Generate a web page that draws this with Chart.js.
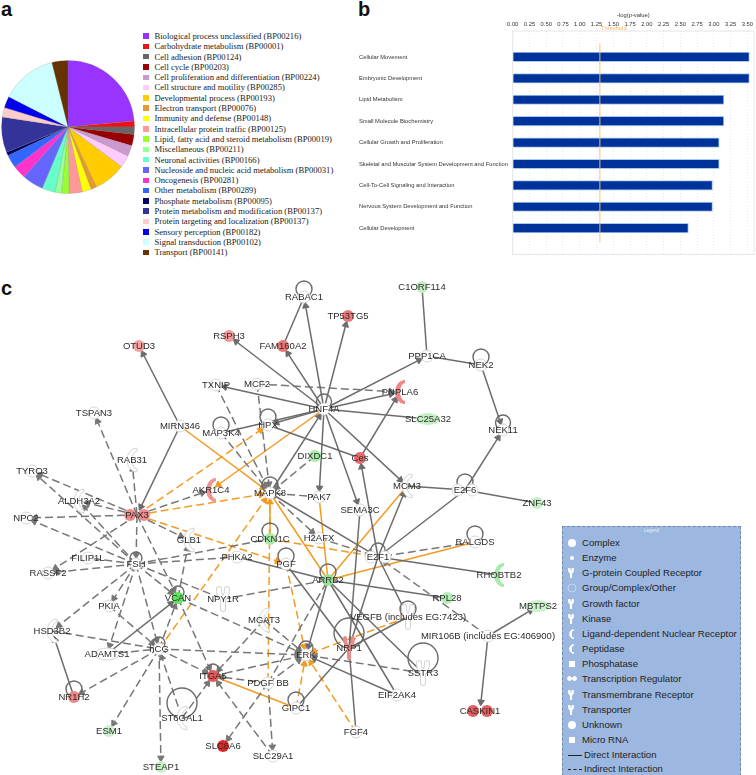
<!DOCTYPE html>
<html>
<head>
<meta charset="utf-8">
<script src="https://cdn.jsdelivr.net/npm/chart.js@4.4.0/dist/chart.umd.min.js"></script>
<style>
html, body { margin: 0; padding: 0; background: #fff; }
body { position: relative; width: 756px; height: 775px; overflow: hidden; font-family: "Liberation Sans", Arial, sans-serif; filter: blur(0.4px); }
canvas { position: absolute; display: block; }
.letter { position: absolute; font-weight: bold; font-size: 20px; line-height: 20px; color: #111; }
#pieLegend { position: absolute; left: 143px; top: 31px; font-family: "Liberation Serif", serif; font-size: 8.6px; color: #1a1a1a; }
#pieLegend div { position: relative; height: 10.3px; line-height: 10.3px; padding-left: 11.5px; white-space: nowrap; }
#pieLegend i { position: absolute; left: 0; top: 2.4px; width: 5.5px; height: 5.5px; }
#panel { position: absolute; left: 562px; top: 526px; width: 179px; height: 260px; background: #9db8e0; border: 1px dashed #6f86ad; box-sizing: border-box; font-size: 9.6px; color: #222; }
#panel .row { position: absolute; left: 19px; white-space: nowrap; line-height: 12px; }
#panel canvas { left: 3px; }
#panel .title { position: absolute; left: 0; right: 0; top: 1px; text-align: center; font-size: 4.5px; color: #e8eef8; }
#panel .sample { position: absolute; left: 5px; width: 14px; height: 0; }
</style>
</head>
<body>
<div class="letter" style="left:1px;top:-1px">a</div>
<div class="letter" style="left:358px;top:-1px">b</div>
<div class="letter" style="left:1px;top:278px">c</div>

<canvas id="pie" width="136" height="136" style="left:0;top:59px"></canvas>
<div id="pieLegend"></div>
<canvas id="bars" width="406" height="258" style="left:350px;top:0"></canvas>
<canvas id="net" width="562" height="505" style="left:0;top:270px"></canvas>
<div id="panel"><div class="title">Legend</div></div>

<script>
// panel a
const pieLabels = [
    'Biological process unclassified (BP00216)', 'Carbohydrate metabolism (BP00001)', 'Cell adhesion (BP00124)',
    'Cell cycle (BP00203)', 'Cell proliferation and differentiation (BP00224)', 'Cell structure and motility (BP00285)',
    'Developmental process (BP00193)', 'Electron transport (BP00076)', 'Immunity and defense (BP00148)',
    'Intracellular protein traffic (BP00125)', 'Lipid, fatty acid and steroid metabolism (BP00019)', 'Miscellaneous (BP00211)',
    'Neuronal activities (BP00166)', 'Nucleoside and nucleic acid metabolism (BP00031)', 'Oncogenesis (BP00281)',
    'Other metabolism (BP00289)', 'Phosphate metabolism (BP00095)', 'Protein metabolism and modification (BP00137)',
    'Protein targeting and localization (BP00137)', 'Sensory perception (BP00182)', 'Signal transduction (BP00102)',
    'Transport (BP00141)'
];
const pieValues = [23.6, 1.4, 1.8, 2.8, 2.6, 3.0, 7.8, 1.4, 2.2, 3.2, 1.8, 1.6, 3.2, 5.2, 3.2, 3.2, 0.9, 8.6, 2.3, 2.8, 13.6, 3.9];
const pieColors = ['#9933ff', '#ee1111', '#666666', '#990000', '#cc99cc', '#ffccff', '#ffcc00', '#e69933', '#ffff00', '#ff9999',
    '#99ff33', '#99ff99', '#66ffcc', '#6666ff', '#ff33cc', '#3366ff', '#000066', '#333399', '#ffcccc', '#0000ee', '#ccffff', '#663300'];

// panel b
const barCategories = ['Cellular Movement', 'Embryonic Development', 'Lipid Metabolism', 'Small Molecule Biochemistry',
    'Cellular Growth and Proliferation', 'Skeletal and Muscular System Development and Function',
    'Cell-To-Cell Signaling and Interaction', 'Nervous System Development and Function', 'Cellular Development'];
const barValues = [3.53, 3.53, 3.15, 3.15, 3.08, 3.08, 2.98, 2.98, 2.62];
const thresholdValue = 1.3;

// panel c: node positions in the coordinates of the figure
const nodeNames = ['OTUD3', 'RSPH3', 'TXNIP', 'MCF2', 'TSPAN3', 'MIRN346', 'MAP3K4', 'HPX', 'RAB31', 'TYRO3', 'AKR1C4', 'ALDH3A2', 'NPC2', 'PAX3', 'MAPK8',
    'RABAC1', 'TP53TG5', 'FAM160A2', 'C1ORF114', 'PPP1CA', 'NEK2', 'PNPLA6', 'HNF4A', 'SLC25A32', 'NEK11', 'DIXDC1', 'Ces', 'MCM3', 'E2F6', 'ZNF43', 'PAK7', 'SEMA3C',
    'GLB1', 'CDKN1C', 'FILIP1L', 'FSH', 'PHKA2', 'RASSF2', 'VCAN', 'NPY1R', 'PKIA', 'HSD3B2', 'MGAT3', 'hCG', 'ADAMTS1', 'ITGA5', 'PDGF BB', 'NR1H2', 'ST6GAL1', 'ESM1', 'SLC6A6', 'SLC29A1', 'STEAP1',
    'H2AFX', 'E2F1', 'RALGDS', 'PGF', 'ARRB2', 'RHOBTB2', 'RPL28', 'MBTPS2', 'VEGFB (includes EG:7423)', 'MIR106B (includes EG:406900)', 'NRP1', 'ERK', 'SSTR3', 'EIF2AK4', 'GIPC1', 'FGF4', 'CASKIN1'];
const nodeX = [139, 229, 216, 257, 94, 180, 221, 268, 132, 32, 211, 79, 26, 137, 270,
    304, 348, 283, 422, 427, 481, 400, 324, 428, 503, 315, 360, 407, 465, 537, 319, 360,
    189, 270, 88, 136, 237, 48, 178, 223, 109, 52, 264, 159, 107, 213, 268, 74, 182, 109, 223, 273, 161,
    319, 378, 475, 286, 328, 499, 447, 538, 408, 488, 349, 306, 423, 397, 296, 356, 480];
const nodeY = [346, 336, 385, 384, 413, 426, 433, 425, 460, 471, 490, 501, 518, 515, 493,
    297, 316, 346, 287, 356, 365, 392, 409, 419, 430, 456, 458, 486, 490, 503, 497, 510,
    540, 539, 558, 564, 557, 573, 598, 599, 606, 631, 620, 649, 654, 676, 683, 697, 718, 731, 746, 756, 767,
    538, 557, 542, 564, 580, 575, 598, 606, 617, 636, 648, 655, 673, 695, 708, 732, 711];
const redNodes = { OTUD3: '#f4a3a3', RSPH3: '#f19a9a', PAX3: '#ee8a8a', AKR1C4: '#f09595', 'FAM160A2': '#e97676', TP53TG5: '#ea7a7a', PNPLA6: '#ef8585', Ces: '#e26a6a',
    ITGA5: '#e85a5a', NR1H2: '#f08686', SLC6A6: '#e02525', NRP1: '#ef8a8a', CASKIN1: '#e06060' };
const greenNodes = { C1ORF114: '#c4f0c4', SLC25A32: '#c4f0c4', DIXDC1: '#a8eaa8', ZNF43: '#c4f0c4', CDKN1C: '#a8eaa8', VCAN: '#5fe35f', ESM1: '#ccf2cc', STEAP1: '#ccf2cc',
    ARRB2: '#98e398', RHOBTB2: '#a8eaa8', RPL28: '#b4eeb4', MBTPS2: '#ccf2cc' };
const crescentNodes = ['PNPLA6', 'AKR1C4', 'RHOBTB2', 'RAB31', 'ALDH3A2', 'GLB1', 'MCM3', 'HSD3B2', 'MGAT3', 'ST6GAL1'];
const forkNodes = ['NRP1', 'NPY1R', 'SSTR3', 'VEGFB (includes EG:7423)'];
const twinNodes = ['PAX3', 'CASKIN1', 'E2F6', 'E2F1'];
const ovalNodes = ['MBTPS2', 'SLC25A32', 'ADAMTS1'];
const loopNodes = ['MAP3K4', 'HPX', 'MAPK8', 'RABAC1', 'HNF4A', 'NEK2', 'NEK11', 'E2F6', 'E2F1', 'RALGDS', 'PGF', 'ARRB2', 'VEGFB (includes EG:7423)', 'NRP1', 'SSTR3', 'ERK', 'GIPC1', 'CDKN1C', 'FSH', 'NR1H2', 'hCG', 'ST6GAL1', 'VCAN', 'ITGA5'];
const loopRadius = [8, 8, 8, 8, 7.5, 8, 7.5, 8, 7, 8, 8, 8, 8, 15, 15, 7, 8, 8, 6, 8, 6, 15, 6, 6];

// "A>B" has an arrow head at B, "A-B" has none
const graySolid = ['FAM160A2-RABAC1', 'HNF4A>RABAC1', 'HNF4A>TP53TG5', 'HNF4A>FAM160A2', 'HNF4A>RSPH3', 'HNF4A>TXNIP', 'HNF4A>PPP1CA', 'HNF4A>PNPLA6', 'HNF4A>HPX', 'HNF4A>PAK7', 'HNF4A>SEMA3C', 'HNF4A>MCM3',
    'SLC25A32-HNF4A', 'MAPK8>HNF4A', 'MAP3K4-HNF4A', 'HPX-Ces', 'Ces>PNPLA6', 'C1ORF114-PPP1CA', 'PPP1CA-NEK2', 'NEK2>NEK11', 'E2F6>NEK11', 'MCM3-E2F6', 'E2F6-ZNF43', 'E2F6-E2F1', 'E2F1>MCM3', 'E2F1>Ces',
    'MIRN346>OTUD3', 'MIRN346>PAX3', 'SEMA3C-NRP1', 'PGF-NRP1', 'ARRB2-EIF2AK4', 'ARRB2-SSTR3', 'ARRB2-RPL28', 'ARRB2>ERK', 'E2F1-RHOBTB2', 'E2F1>VEGFB (includes EG:7423)', 'E2F1>NRP1', 'NRP1-VEGFB (includes EG:7423)',
    'GIPC1-NRP1', 'EIF2AK4>ERK', 'FGF4-NRP1', 'MAPK8>E2F1', 'PHKA2-ARRB2', 'MIR106B (includes EG:406900)>CASKIN1', 'MIR106B (includes EG:406900)>MBTPS2', 'NR1H2>HSD3B2', 'ADAMTS1>VCAN'];
const grayDashed = ['PAX3>TSPAN3', 'PAX3>RAB31', 'PAX3>TYRO3', 'PAX3>ALDH3A2', 'PAX3>NPC2', 'PAX3>RASSF2', 'PAX3>FSH', 'PAX3>GLB1', 'PAX3>VCAN', 'PAX3>AKR1C4',
    'FSH>TYRO3', 'FSH>NPC2', 'FSH>ALDH3A2', 'FSH-FILIP1L', 'FSH>RASSF2', 'FSH-PHKA2', 'FSH-CDKN1C', 'FSH>PKIA', 'FSH>ADAMTS1', 'FSH>HSD3B2', 'FSH>hCG', 'FSH>VCAN', 'FSH-NPY1R',
    'VCAN>GLB1', 'hCG>VCAN', 'VCAN>ITGA5', 'VCAN>ERK', 'PKIA>hCG', 'HSD3B2-hCG', 'ADAMTS1-hCG', 'hCG>NR1H2', 'hCG>ESM1', 'hCG>STEAP1', 'ST6GAL1>hCG', 'ST6GAL1>ITGA5', 'hCG>ITGA5', 'hCG>ERK',
    'PDGF BB>ITGA5', 'PDGF BB>SLC6A6', 'PDGF BB>SLC29A1', 'SLC29A1>ITGA5', 'MGAT3>ITGA5', 'MGAT3>ERK', 'ITGA5-ERK', 'NPY1R-ARRB2', 'PDGF BB>ERK', 'PDGF BB-ARRB2', 'SSTR3>ERK',
    'TXNIP>MAPK8', 'MCF2>MAPK8', 'MAP3K4>MAPK8', 'DIXDC1>MAPK8', 'PAK7-MAPK8', 'MCF2>PNPLA6', 'MAPK8>H2AFX', 'H2AFX>E2F1', 'RALGDS>E2F1', 'MIR106B (includes EG:406900)>E2F1'];
const orangeSolid = ['MIRN346>MAPK8', 'HNF4A>AKR1C4', 'ARRB2-MCM3', 'ARRB2-RALGDS', 'ARRB2-MAPK8', 'PAK7-ARRB2', 'ITGA5-GIPC1', 'CDKN1C>MAPK8'];
const orangeDashed = ['PAX3>HPX', 'PAX3>MAPK8', 'PAX3>PGF', 'hCG>MAPK8', 'CDKN1C>E2F1', 'PGF>ERK', 'VEGFB (includes EG:7423)>ERK', 'FGF4>ERK', 'GIPC1>ERK', 'MAPK8-PDGF BB'];

const legendNames = ['Complex', 'Enzyme', 'G-protein Coupled Receptor', 'Group/Complex/Other', 'Growth factor', 'Kinase', 'Ligand-dependent Nuclear Receptor',
    'Peptidase', 'Phosphatase', 'Transcription Regulator', 'Transmembrane Receptor', 'Transporter', 'Unknown', 'Micro RNA'];
const legendShapes = ['dot', 'small', 'fork', 'ring', 'fork', 'fork', 'cres', 'cres', 'box', 'twin', 'fork', 'fork', 'dot', 'box'];

// little node glyphs, used as point styles
function makeCanvas(w, h) {
    const c = document.createElement('canvas');
    c.width = w;
    c.height = h;
    return c;
}

function crescent(fill, edge) {
    const c = makeCanvas(12, 26);
    const g = c.getContext('2d');
    g.beginPath();
    g.ellipse(11, 13, 10, 12, 0, Math.PI * 1.5, Math.PI * 0.5, true);
    g.ellipse(11, 13, 5, 9, 0, Math.PI * 0.5, Math.PI * 1.5, false);
    g.closePath();
    g.fillStyle = fill;
    g.fill();
    g.strokeStyle = edge;
    g.stroke();
    return c;
}

function fork(fill, edge) {
    const c = makeCanvas(14, 26);
    const g = c.getContext('2d');
    g.lineCap = 'round';
    const path = () => {
        g.beginPath();
        g.moveTo(3, 3);
        g.quadraticCurveTo(3, 11, 7, 12);
        g.quadraticCurveTo(11, 11, 11, 3);
        g.moveTo(7, 12);
        g.lineTo(7, 23);
    };
    path();
    g.lineWidth = 6;
    g.strokeStyle = edge;
    g.stroke();
    path();
    g.lineWidth = 4;
    g.strokeStyle = fill;
    g.stroke();
    return c;
}

function twin(fill, edge) {
    const c = makeCanvas(28, 14);
    const g = c.getContext('2d');
    [7, 21].forEach(x => {
        g.beginPath();
        g.arc(x, 7, 6, 0, Math.PI * 2);
        g.fillStyle = fill;
        g.fill();
        g.strokeStyle = edge;
        g.stroke();
    });
    return c;
}

function oval(fill, edge) {
    const c = makeCanvas(26, 14);
    const g = c.getContext('2d');
    g.beginPath();
    g.ellipse(13, 7, 12, 6, 0, 0, Math.PI * 2);
    g.fillStyle = fill;
    g.fill();
    g.strokeStyle = edge;
    g.stroke();
    return c;
}

new Chart(document.getElementById('pie'), {
    type: 'pie',
    data: {
        labels: pieLabels,
        datasets: [{ data: pieValues, backgroundColor: pieColors, borderColor: 'rgba(120,120,120,0.45)', borderWidth: 0.5 }]
    },
    options: {
        responsive: false,
        animation: false,
        radius: 66.5,
        plugins: { legend: { display: false }, tooltip: { enabled: false } }
    }
});

const pieLegend = document.getElementById('pieLegend');
pieLabels.forEach((label, i) => {
    const row = document.createElement('div');
    row.textContent = label;
    const box = document.createElement('i');
    box.style.background = pieColors[i];
    row.appendChild(box);
    pieLegend.appendChild(row);
});

// outline of the plot and the threshold word
const plotFrame = {
    id: 'plotFrame',
    afterDatasetsDraw(chart) {
        const { ctx, chartArea: a, scales } = chart;
        ctx.save();
        ctx.strokeStyle = '#e2e6ec';
        ctx.strokeRect(a.left, a.top, a.width, a.height);
        ctx.fillStyle = '#f5b860';
        ctx.font = '5.8px "Liberation Sans"';
        ctx.textBaseline = 'middle';
        ctx.fillText('Threshold', scales.x.getPixelForValue(thresholdValue) + 1, a.top - 2.5);
        ctx.restore();
    }
};

new Chart(document.getElementById('bars'), {
    type: 'bar',
    data: {
        datasets: [
            {
                type: 'scatter',
                showLine: true,
                data: [{ x: thresholdValue, y: 0.37 }, { x: thresholdValue, y: 9.65 }],
                borderColor: 'rgba(250,190,110,0.5)',
                borderWidth: 0.8,
                pointRadius: 0
            },
            {
                data: barValues.map((v, i) => ({ x: v, y: i + 1 })),
                backgroundColor: '#003399',
                borderColor: '#a9c8f2',
                borderWidth: 1,
                barThickness: 9.5
            }
        ]
    },
    options: {
        indexAxis: 'y',
        responsive: false,
        animation: false,
        layout: { autoPadding: false, padding: { left: 9, bottom: 2.3, top: 0, right: 0 } },
        plugins: { legend: { display: false }, tooltip: { enabled: false } },
        scales: {
            x: {
                type: 'linear',
                position: 'top',
                min: 0,
                max: 3.6,
                title: { display: true, text: '-log(p-value)', color: '#333', font: { size: 5.8 }, padding: { top: 12, bottom: 0 } },
                afterFit: s => { s.height = 31; },
                grid: { color: '#e8e8e8', drawTicks: false },
                border: { dash: [1, 2], display: false },
                ticks: {
                    stepSize: 0.25,
                    includeBounds: false,
                    maxRotation: 0,
                    autoSkip: false,
                    padding: 3,
                    color: '#333',
                    font: { size: 5.8 },
                    callback: v => v.toFixed(2)
                }
            },
            y: {
                type: 'linear',
                reverse: true,
                min: 0.37,
                max: 9.65,
                afterFit: s => { s.width = 153.7; },
                grid: { display: false },
                border: { display: false },
                ticks: {
                    stepSize: 1,
                    includeBounds: false,
                    autoSkip: false,
                    crossAlign: 'far',
                    padding: 0,
                    color: '#333',
                    font: { size: 5.8 },
                    callback: v => barCategories[v - 1] || ''
                }
            }
        }
    },
    plugins: [plotFrame]
});

// network
function nodeAt(name) {
    const i = nodeNames.indexOf(name);
    return { x: nodeX[i], y: nodeY[i] };
}

function edgeDatasets(list, color, dash) {
    return list.map(edge => {
        const arrow = edge.includes('>');
        const [from, to] = edge.split(arrow ? '>' : /(?<=[A-Za-z0-9)])-(?=[A-Za-z0-9])/);
        const a = nodeAt(from);
        const b = nodeAt(to);
        const dx = b.x - a.x;
        const dy = b.y - a.y;
        const len = Math.hypot(dx, dy);
        const back = arrow ? 9 : 0;
        return {
            data: [a, { x: b.x - dx / len * back, y: b.y - dy / len * back }],
            showLine: true,
            borderColor: color,
            borderWidth: 1.5,
            borderDash: dash,
            pointRadius: [0, arrow ? 3.8 : 0],
            pointStyle: 'triangle',
            pointRotation: [0, Math.atan2(dx, -dy) * 180 / Math.PI],
            backgroundColor: color,
            pointBorderColor: color,
            pointBorderWidth: 1,
            clip: false
        };
    });
}

const nodeFill = name => redNodes[name] || greenNodes[name] || '#ffffff';
const nodeEdge = name => (redNodes[name] || greenNodes[name]) ? 'rgba(0,0,0,0)' : '#d4d4d4';

function nodeStyle(name) {
    if (crescentNodes.includes(name)) return crescent(nodeFill(name), nodeEdge(name));
    if (forkNodes.includes(name)) return fork(nodeFill(name), nodeEdge(name));
    if (twinNodes.includes(name)) return twin(nodeFill(name), nodeEdge(name));
    if (ovalNodes.includes(name)) return oval(nodeFill(name), nodeEdge(name));
    return 'circle';
}

const nodeLabels = {
    id: 'nodeLabels',
    afterDatasetsDraw(chart) {
        const { ctx, scales } = chart;
        ctx.save();
        ctx.font = '9.5px "Liberation Sans"';
        ctx.fillStyle = '#2b2b2b';
        ctx.textAlign = 'center';
        ctx.textBaseline = 'middle';
        nodeNames.forEach((name, i) => {
            ctx.fillText(name, scales.x.getPixelForValue(nodeX[i]), scales.y.getPixelForValue(nodeY[i]));
        });
        ctx.restore();
    }
};

new Chart(document.getElementById('net'), {
    type: 'scatter',
    data: {
        datasets: [
            {
                data: nodeNames.map(nodeAt),
                pointStyle: nodeNames.map(nodeStyle),
                pointRadius: 6,
                backgroundColor: nodeNames.map(nodeFill),
                pointBorderColor: nodeNames.map(nodeEdge),
                pointBorderWidth: 1,
                clip: false
            },
            {
                data: loopNodes.map((name, i) => ({ x: nodeAt(name).x, y: nodeAt(name).y - loopRadius[i] })),
                pointRadius: loopRadius,
                backgroundColor: 'rgba(0,0,0,0)',
                pointBorderColor: '#6a6a6a',
                pointBorderWidth: 1.4,
                clip: false
            },
            ...edgeDatasets(graySolid, '#6c6c6c', []),
            ...edgeDatasets(grayDashed, '#777777', [8, 4]),
            ...edgeDatasets(orangeSolid, '#f39a22', []),
            ...edgeDatasets(orangeDashed, '#f39a22', [8, 4])
        ]
    },
    options: {
        responsive: false,
        animation: false,
        layout: { autoPadding: false, padding: 0 },
        plugins: { legend: { display: false }, tooltip: { enabled: false } },
        scales: {
            x: { display: false, min: 0, max: 562 },
            y: { display: false, reverse: true, min: 270, max: 775 }
        }
    },
    plugins: [nodeLabels]
});

// legend panel of c
const panel = document.getElementById('panel');
legendNames.forEach((name, i) => {
    const y = 10 + i * 15.15;
    const row = document.createElement('div');
    row.className = 'row';
    row.style.top = y + 'px';
    row.textContent = name;
    panel.appendChild(row);
    const icon = makeCanvas(12, 12);
    const g = icon.getContext('2d');
    const shape = legendShapes[i];
    g.fillStyle = '#fff';
    g.strokeStyle = '#fff';
    if (shape === 'dot') { g.beginPath(); g.arc(6, 6, 4, 0, Math.PI * 2); g.fill(); }
    if (shape === 'small') { g.beginPath(); g.arc(6, 6, 2, 0, Math.PI * 2); g.fill(); }
    if (shape === 'ring') { g.globalAlpha = 0.4; g.beginPath(); g.arc(6, 6, 4, 0, Math.PI * 2); g.stroke(); }
    if (shape === 'box') { g.fillRect(3, 3, 6, 6); }
    if (shape === 'fork') { g.drawImage(fork('#fff', '#fff'), 2, 1, 6, 10); }
    if (shape === 'cres') { g.drawImage(crescent('#fff', '#fff'), 3, 1, 5, 10); }
    if (shape === 'twin') { g.drawImage(twin('#fff', '#fff'), 1, 3, 10, 5); }
    icon.style.top = y + 'px';
    panel.appendChild(icon);
});
[['Direct Interaction', 'solid'], ['Indirect Interaction', 'dashed']].forEach(([name, line], i) => {
    const y = 221.7 + i * 14.6;
    const row = document.createElement('div');
    row.className = 'row';
    row.style.top = y + 'px';
    row.style.left = '21px';
    row.textContent = name;
    panel.appendChild(row);
    const sample = document.createElement('div');
    sample.className = 'sample';
    sample.style.top = (y + 6) + 'px';
    sample.style.borderTop = '1px ' + line + ' #222';
    panel.appendChild(sample);
});
</script>
</body>
</html>
